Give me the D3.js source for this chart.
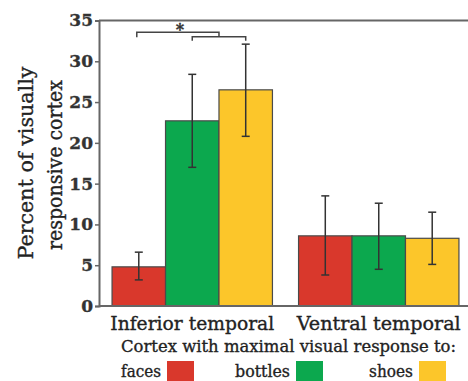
<!DOCTYPE html>
<html><head><meta charset="utf-8">
<script src="https://cdn.jsdelivr.net/npm/d3@7"></script>
<style>body{margin:0;background:#fff}svg{display:block}
text{stroke:#222;stroke-width:0.35px;paint-order:stroke}</style>
</head><body>
<svg id="chart" width="468" height="381"></svg>
<script>
const regions = ["Inferior temporal", "Ventral temporal"];
const stimuli = ["faces", "bottles", "shoes"];
const colors = ["#d9382c", "#0ca84e", "#fcc62a"];
const means = {faces: [4.8, 8.6], bottles: [22.7, 8.6], shoes: [26.5, 8.3]};
const errLow = {faces: [3.2, 3.8], bottles: [17.0, 4.5], shoes: [20.8, 5.1]};
const errHigh = {faces: [6.6, 13.5], bottles: [28.4, 12.6], shoes: [32.1, 11.5]};
const yTicks = [0, 5, 10, 15, 20, 25, 30, 35];

const svg = d3.select("#chart");
const serif = "'DejaVu Serif', 'Liberation Serif', serif";
const y = d3.scaleLinear().domain([0, 35]).range([306, 20.5]);
const x0 = d3.scaleBand().domain(regions).range([99, 472]).paddingInner(0.14).paddingOuter(0.07);
const x1 = d3.scaleBand().domain(stimuli).range([0, x0.bandwidth()]);
const color = d3.scaleOrdinal().domain(stimuli).range(colors);

// top frame line
svg.append("line").attr("x1", 99).attr("x2", 468).attr("y1", y(35)).attr("y2", y(35))
  .attr("stroke", "#666").attr("stroke-width", 2);

// bars
const data = [];
regions.forEach((r, i) => stimuli.forEach(s => data.push({r, s, v: means[s][i], lo: errLow[s][i], hi: errHigh[s][i]})));
svg.selectAll("rect.bar").data(data).join("rect").attr("class", "bar")
  .attr("x", d => x0(d.r) + x1(d.s))
  .attr("width", x1.bandwidth())
  .attr("y", d => y(d.v))
  .attr("height", d => y(0) - y(d.v))
  .attr("fill", d => color(d.s))
  .attr("stroke", "#4a4a4a").attr("stroke-width", 1.2);

// error bars
const eb = svg.selectAll("g.err").data(data).join("g").attr("class", "err")
  .attr("transform", d => `translate(${x0(d.r) + x1(d.s) + x1.bandwidth() / 2},0)`);
eb.append("line").attr("y1", d => y(d.lo)).attr("y2", d => y(d.hi)).attr("stroke", "#333").attr("stroke-width", 1.5);
eb.append("line").attr("x1", -4).attr("x2", 4).attr("y1", d => y(d.lo)).attr("y2", d => y(d.lo)).attr("stroke", "#333").attr("stroke-width", 1.5);
eb.append("line").attr("x1", -4).attr("x2", 4).attr("y1", d => y(d.hi)).attr("y2", d => y(d.hi)).attr("stroke", "#333").attr("stroke-width", 1.5);

// axes
const yAxis = d3.axisLeft(y).tickValues(yTicks).tickSize(4).tickPadding(4);
const gy = svg.append("g").attr("transform", "translate(99,0)").call(yAxis);
gy.select(".domain").attr("stroke", "#666").attr("stroke-width", 2);
gy.selectAll(".tick line").attr("stroke", "#666").attr("stroke-width", 1.5);
gy.selectAll(".tick text").attr("font-family", serif).attr("font-weight", "bold")
  .attr("font-size", 17).attr("fill", "#333").style("stroke", "#333").attr("x", -6);

const xAxis = d3.axisBottom(x0).tickSize(0).tickPadding(10);
const gx = svg.append("g").attr("transform", `translate(0,${y(0)})`).call(xAxis);
gx.select(".domain").attr("d", `M99,0H468`).attr("stroke", "#666").attr("stroke-width", 2);
gx.selectAll(".tick text").attr("font-family", serif).attr("font-size", 19).attr("fill", "#222")
  .attr("dy", "0.75em")
  .attr("textLength", 164).attr("lengthAdjust", "spacingAndGlyphs");

// y title
svg.append("text").attr("transform", "translate(33,163) rotate(-90)").attr("text-anchor", "middle")
  .attr("font-family", serif).attr("font-size", 20).attr("fill", "#222")
  .attr("textLength", 193).attr("lengthAdjust", "spacingAndGlyphs").text("Percent of visually");
svg.append("text").attr("transform", "translate(62,165) rotate(-90)").attr("text-anchor", "middle")
  .attr("font-family", serif).attr("font-size", 20).attr("fill", "#222")
  .attr("textLength", 170).attr("lengthAdjust", "spacingAndGlyphs").text("responsive cortex");

// significance brackets
const xc = (r, s) => x0(r) + x1(s) + x1.bandwidth() / 2;
const b2y = y(33.0), b2x1 = xc(regions[0], "bottles"), b2x2 = xc(regions[0], "shoes");
svg.append("path").attr("d", `M${b2x1},${b2y + 4}V${b2y}H${b2x2}V${b2y + 4}`)
  .attr("fill", "none").attr("stroke", "#444").attr("stroke-width", 1.5);
const b1y = y(33.55), b1x1 = xc(regions[0], "faces") - 2, b1x2 = (b2x1 + b2x2) / 2;
svg.append("path").attr("d", `M${b1x1},${b1y + 5}V${b1y}H${b1x2}V${b2y}`)
  .attr("fill", "none").attr("stroke", "#444").attr("stroke-width", 1.5);
svg.append("text").attr("x", (b1x1 + b1x2) / 2 + 2).attr("y", b1y + 3).attr("text-anchor", "middle")
  .attr("font-family", serif).attr("font-size", 16).attr("font-weight", "bold").attr("fill", "#333").text("*");

// legend
svg.append("text").attr("x", 121).attr("y", 352).attr("font-family", serif).attr("font-size", 17)
  .attr("fill", "#222").attr("textLength", 335).attr("lengthAdjust", "spacingAndGlyphs")
  .text("Cortex with maximal visual response to:");
const legX = [121, 235, 369];
const legW = [40, 55, 44];
stimuli.forEach((s, i) => {
  svg.append("text").attr("x", legX[i]).attr("y", 377).attr("font-family", serif).attr("font-size", 17)
    .attr("fill", "#222").attr("textLength", legW[i]).attr("lengthAdjust", "spacingAndGlyphs").text(s);
  svg.append("rect").attr("x", legX[i] + legW[i] + 6).attr("y", 361).attr("width", 27).attr("height", 20)
    .attr("fill", color(s));
});
</script>
</body></html>
